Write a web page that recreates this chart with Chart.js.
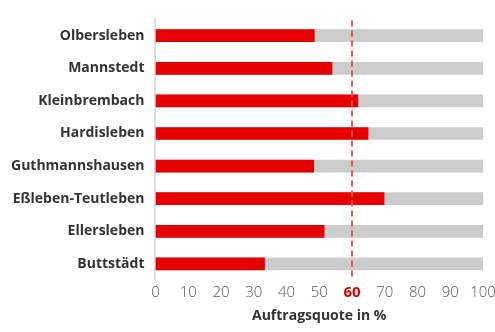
<!DOCTYPE html>
<html>
<head>
<meta charset="utf-8">
<script src="https://cdn.jsdelivr.net/npm/chart.js@4"></script>
<style>
  html, body { margin: 0; padding: 0; background: #fff; }
  #wrap { width: 495px; height: 332px; }
</style>
</head>
<body>
<div id="wrap"><canvas id="quoteChart"></canvas></div>
<script>
const places = ['Olbersleben', 'Mannstedt', 'Kleinbrembach', 'Hardisleben', 'Guthmannshausen', 'Eßleben-Teutleben', 'Ellersleben', 'Buttstädt'];
const quota = [48.6, 54, 61.9, 65, 48.4, 69.9, 51.6, 33.4];
const full = [100, 100, 100, 100, 100, 100, 100, 100];
const xTicks = [0, 10, 20, 30, 40, 50, 60, 70, 80, 90, 100];
const target = 60;

const red = '#e60000';
const fontName = '"Open Sans", sans-serif';

// dashed target line at 60
const targetLine = {
  id: 'targetLine',
  afterDatasetsDraw(chart) {
    const ctx = chart.ctx;
    const x = chart.scales.x.getPixelForValue(target);
    const area = chart.chartArea;
    ctx.save();
    ctx.strokeStyle = '#ea5555';
    ctx.lineWidth = 2;
    ctx.setLineDash([6, 4]);
    ctx.beginPath();
    ctx.moveTo(x, area.top + 1);
    ctx.lineTo(x, area.bottom);
    ctx.stroke();
    ctx.restore();
  }
};

const ctx = document.getElementById('quoteChart').getContext('2d');

new Chart(ctx, {
  type: 'bar',
  data: {
    labels: places,
    datasets: [
      { data: quota, backgroundColor: red, grouped: false, barPercentage: 0.39, categoryPercentage: 1 },
      { data: full, backgroundColor: '#cccccc', grouped: false, barPercentage: 0.39, categoryPercentage: 1 }
    ]
  },
  options: {
    indexAxis: 'y',
    responsive: true,
    maintainAspectRatio: false,
    animation: false,
    layout: { padding: { top: 16, right: 0, left: 0, bottom: 8 } },
    plugins: {
      legend: { display: false },
      tooltip: { enabled: false }
    },
    scales: {
      x: {
        min: 0,
        max: 100,
        afterBuildTicks: (axis) => { axis.ticks = xTicks.map(v => ({ value: v })); },
        afterFit: (axis) => { axis.paddingRight = 12; },
        grid: { display: false, drawTicks: false },
        border: { display: false },
        ticks: {
          padding: 4,
          color: (c) => c.tick && c.tick.value === target ? red : '#555',
          font: (c) => c.tick && c.tick.value === target
            ? { family: fontName, size: 15, weight: 'bold' }
            : { family: fontName, size: 15, weight: 300 }
        },
        title: {
          display: true,
          text: 'Auftragsquote in %',
          color: '#333',
          font: { family: fontName, size: 14, weight: 'bold' },
          padding: { top: 1, bottom: 0 }
        }
      },
      y: {
        grid: { display: false, drawTicks: false },
        border: { display: true, color: '#dddddd', width: 2 },
        ticks: {
          padding: 11,
          color: '#333',
          font: { family: fontName, size: 14, weight: 'bold' }
        }
      }
    }
  },
  plugins: [targetLine]
});
</script>
</body>
</html>
